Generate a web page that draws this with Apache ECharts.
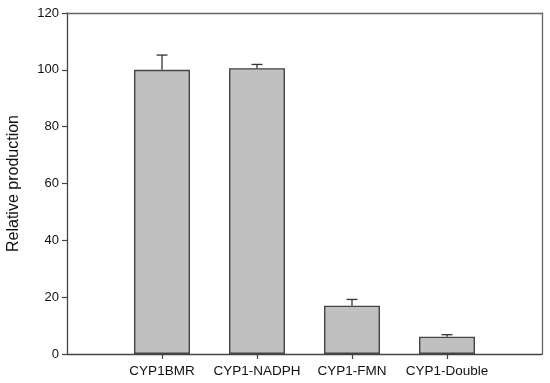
<!DOCTYPE html>
<html>
<head>
<meta charset="utf-8">
<script src="https://cdn.jsdelivr.net/npm/echarts@6/dist/echarts.min.js"></script>
<style>html,body{margin:0;padding:0;background:#fff}#c{width:550px;height:383px}</style>
</head>
<body>
<div id="c"></div>
<script>
var categories = ['CYP1BMR', 'CYP1-NADPH', 'CYP1-FMN', 'CYP1-Double'];
var values = [100, 100.6, 17.0, 6.1];
var errors = [5.2, 1.3, 2.2, 0.7];
var yTicks = [0, 20, 40, 60, 80, 100, 120];

var barData = categories.map(function (c, i) { return [i + 1, values[i]]; });
var errData = categories.map(function (c, i) { return [i + 1, values[i], values[i] + errors[i]]; });

var chart = echarts.init(document.getElementById('c'));
var font = 'Liberation Sans, Arial, sans-serif';
var lineSt = { color: '#444', width: 1.3 };
chart.setOption({
  animation: false,
  grid: { left: 67, right: 8, top: 13, bottom: 29, containLabel: false, outerBoundsMode: 'none', show: false },
  xAxis: [{
    type: 'value', min: 0, max: 5, interval: 1, position: 'bottom',
    splitLine: { show: false },
    axisLine: { show: true, onZero: false, lineStyle: lineSt },
    axisTick: { show: true, length: 5, lineStyle: { color: '#444', width: 1.2 }, customValues: [1, 2, 3, 4] },
    axisLabel: {
      color: '#111', fontFamily: font, fontSize: 13.5, margin: 10,
      customValues: [1, 2, 3, 4],
      formatter: function (v) { var i = Math.round(v) - 1; return categories[i] || ''; }
    }
  }, {
    type: 'value', min: 0, max: 5, position: 'top',
    splitLine: { show: false },
    axisLine: { show: true, onZero: false, lineStyle: { color: '#666', width: 1.3 } },
    axisTick: { show: false }, axisLabel: { show: false }
  }],
  yAxis: [{
    type: 'value', min: yTicks[0], max: yTicks[yTicks.length - 1], interval: 20, position: 'left',
    name: 'Relative production', nameLocation: 'middle', nameGap: 45,
    nameTextStyle: { color: '#111', fontFamily: font, fontSize: 16 },
    splitLine: { show: false },
    axisLine: { show: true, onZero: false, lineStyle: lineSt },
    axisTick: { show: true, length: 5, lineStyle: { color: '#444', width: 1.2 } },
    axisLabel: { color: '#111', fontFamily: font, fontSize: 13, margin: 8 }
  }, {
    type: 'value', min: 0, max: 120, position: 'right',
    splitLine: { show: false },
    axisLine: { show: true, onZero: false, lineStyle: { color: '#666', width: 1.3 } },
    axisTick: { show: false }, axisLabel: { show: false }
  }],
  series: [
    {
      type: 'bar', data: barData, barWidth: 56,
      itemStyle: { color: '#c0c0c0', borderColor: '#444', borderWidth: 1.4 },
      z: 2
    },
    {
      type: 'custom', data: errData, z: 1,
      renderItem: function (params, api) {
        var base = api.coord([api.value(0), api.value(1)]);
        var top = api.coord([api.value(0), api.value(2)]);
        var hw = 5.5;
        var st = { stroke: '#333', lineWidth: 1.3 };
        return {
          type: 'group',
          children: [
            { type: 'line', shape: { x1: base[0], y1: base[1], x2: top[0], y2: top[1] }, style: st },
            { type: 'line', shape: { x1: top[0] - hw, y1: top[1], x2: top[0] + hw, y2: top[1] }, style: st }
          ]
        };
      }
    }
  ]
});
</script>
</body>
</html>
